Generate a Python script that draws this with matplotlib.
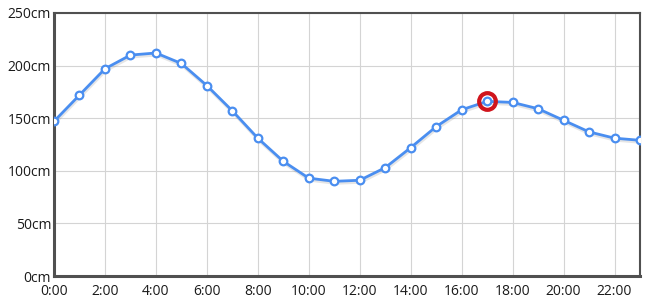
import matplotlib
matplotlib.use('Agg')
import matplotlib.pyplot as plt
import matplotlib.patheffects as pe

# ------------------- data -------------------
hours = list(range(24))
level_cm = [147, 172, 197, 210, 212, 202, 181, 157, 131, 109, 93, 90,
            91, 103, 122, 142, 158, 166, 165, 159, 148, 137, 131, 129]
highlight_hour = 17
y_ticks = [0, 50, 100, 150, 200, 250]
x_ticks = list(range(0, 24, 2))

plt.rcParams['font.family'] = ['Open Sans', 'DejaVu Sans']

fig = plt.figure(figsize=(6.5, 3.0), dpi=100)
ax = fig.add_axes([54 / 650, 24 / 300, 586 / 650, 263 / 300])

ax.plot(hours, level_cm, color='#4a8ef0', lw=2, zorder=3,
        path_effects=[pe.SimpleLineShadow(offset=(0.5, -1.5), shadow_color='gray', alpha=0.2),
                      pe.Normal()])
ax.plot(hours, level_cm, ls='none', marker='o', ms=5.5, mfc='white', mec='#4a8ef0',
        mew=1.6, zorder=4)
hi = hours.index(highlight_hour)
ax.plot([hours[hi]], [level_cm[hi]], marker='o', ms=12, mfc='none', mec='#d0141c',
        mew=3, zorder=5)

ax.set_xlim(0, 23)
ax.set_ylim(0, 250)
ax.set_xticks(x_ticks)
ax.set_xticklabels([f'{h}:00' for h in x_ticks])
ax.set_yticks(y_ticks)
ax.set_yticklabels([f'{v}cm' for v in y_ticks])
ax.grid(True, color='#d4d4d4', lw=0.8, zorder=0)
ax.tick_params(length=0, labelsize=10, colors='#1a1a1a')
ax.tick_params(axis='x', pad=6)
ax.tick_params(axis='y', pad=2)

for side in ['left', 'bottom']:
    ax.spines[side].set_linewidth(2.2)
    ax.spines[side].set_color('#505050')
for side in ['top', 'right']:
    ax.spines[side].set_linewidth(1.5)
    ax.spines[side].set_color('#505050')

fig.savefig('out.png', dpi=100)
